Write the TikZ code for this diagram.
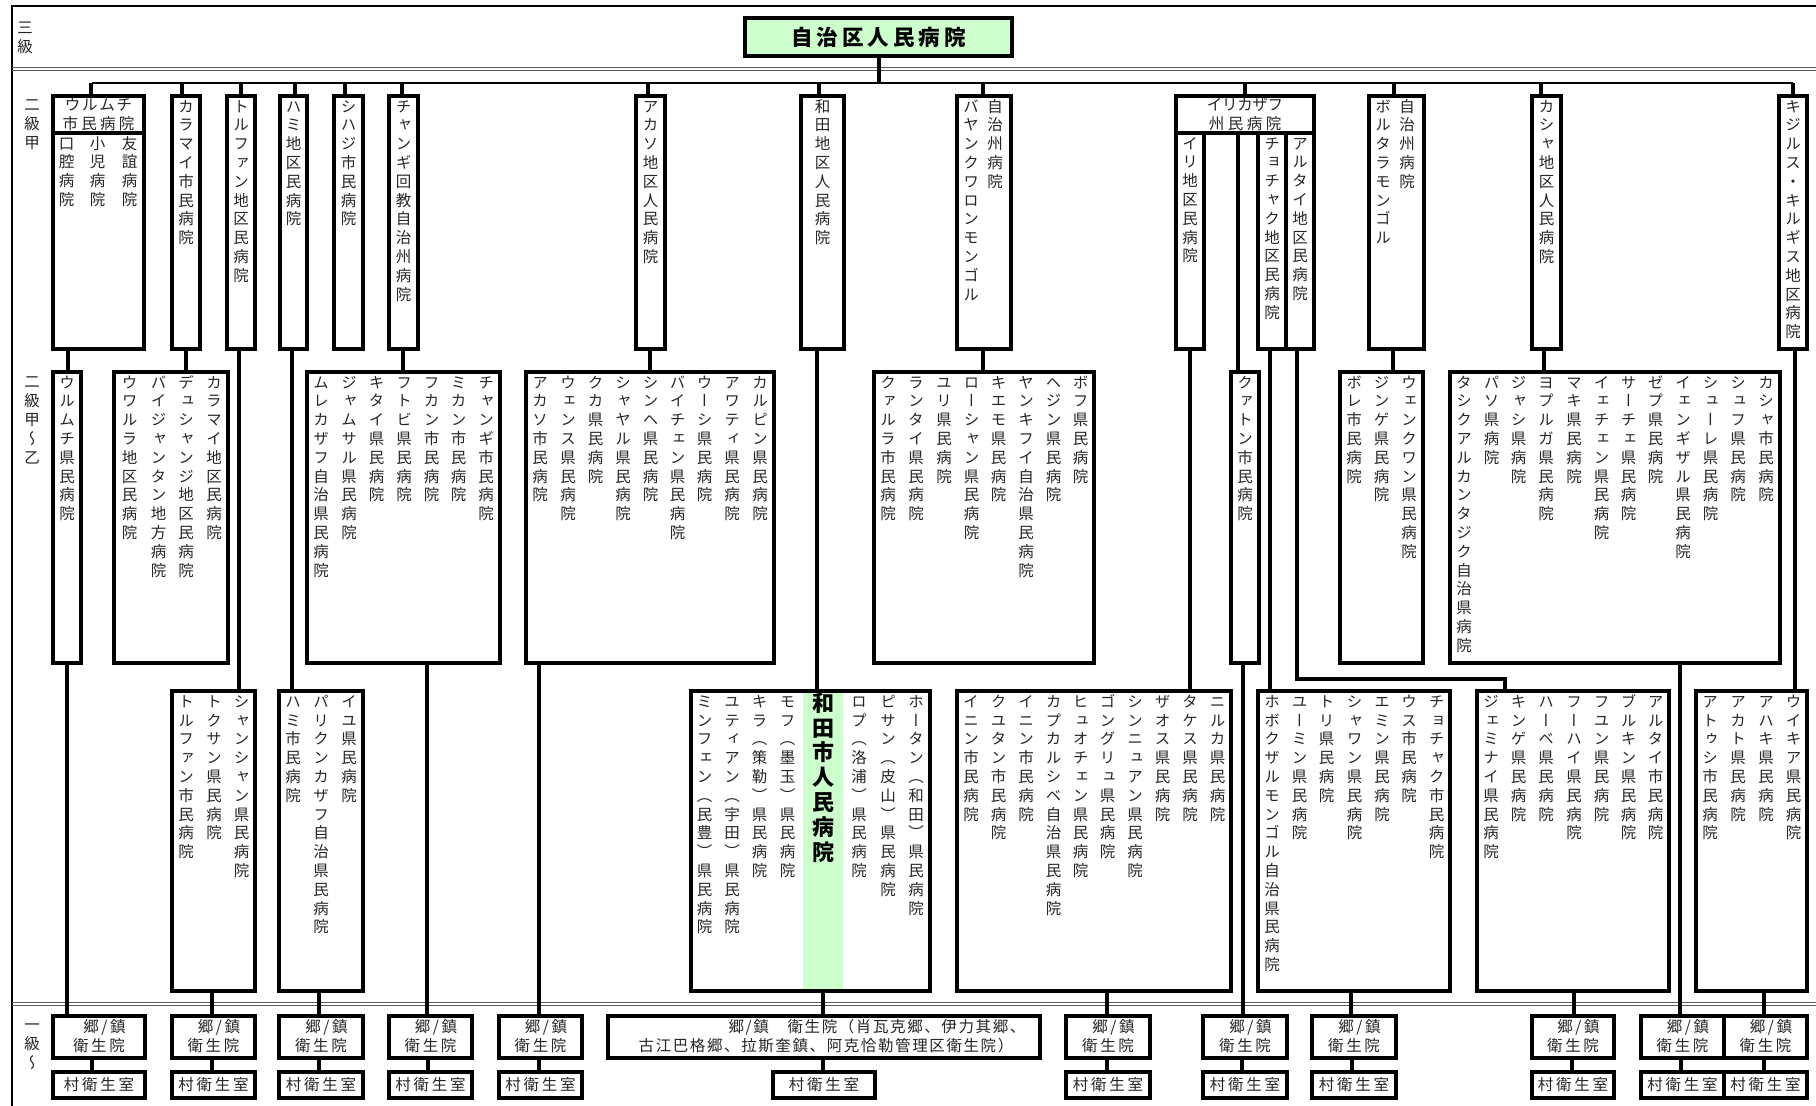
\documentclass[tikz,border=0pt]{standalone}
\usepackage{fontspec}
\newfontfamily\jf{Noto Sans CJK JP}
\newfontfamily\jv[RawFeature=+vert]{Noto Sans CJK JP}
\usetikzlibrary{calc}
\definecolor{lgreen}{HTML}{CCFFCC}
\newlength\vtp
\setlength\vtp{18.8pt}
\makeatletter
\def\vt@q{\vt@q}
\def\vt@loop#1{\ifx#1\vt@q\else\hbox to 1.05em{\hss\vrule height .88em depth .12em width 0pt\relax#1\hss}\expandafter\vt@loop\fi}
\newcommand\vtext[1]{\vbox{\baselineskip=\vtp\lineskiplimit=-100pt\lineskip=0pt\expandafter\vt@loop#1\vt@q}}
\def\hs@loop#1{\ifx#1\vt@q\else\kern\hsk\relax#1\expandafter\hs@loop\fi}
\newcommand\hsp[2]{\begingroup\def\hsk{#1}\vrule height .88em depth .12em width 0pt\kern-#1\relax\hs@loop#2\vt@q\endgroup}
\makeatother
\newcommand\hfn{\jf\fontsize{15.5}{19}\selectfont}
\newcommand\vfn{\jv\fontsize{15.5}{19}\selectfont\setlength\vtp{18.8pt}}
\newcommand\gfn{\jv\bfseries\fontsize{22}{26}\selectfont\setlength\vtp{24.8pt}}
\newcommand\tfn{\jf\bfseries\fontsize{21.5}{24}\selectfont}
\tikzset{
 box/.style={draw, line width=3.2pt, rectangle, inner sep=0pt, outer sep=0pt, font=\hfn, text=black!85},
 stem/.style={line width=4pt},
 bus/.style={line width=1.7pt},
 sepl/.style={line width=0.6pt, draw=black!80, double=white, double distance=1.2pt},
 framel/.style={line width=2.2pt},
 dbl/.style={line width=0.9pt, draw=black!65},
 vt/.style={inner sep=0pt, outer sep=0pt, anchor=north, font=\vfn, text=black!85},
 vtb/.style={inner sep=0pt, outer sep=0pt, anchor=north, font=\gfn, text=black},
 ht/.style={inner sep=0pt, outer sep=0pt, font=\hfn, text=black!85},
}
% group: name, y0, y1, x0, x1, bounds, texts
\newcommand\grp[7]{%
 \node[box, anchor=north west, minimum width={#5-#4}, minimum height={#3-#2}] (#1) at (#4,#2) {};
 \foreach \tx [count=\i] in {#7} {
   \pgfmathtruncatemacro\j{\i-1}
   \pgfmathsetmacro\xa{{#6}[\j]}
   \pgfmathsetmacro\xb{{#6}[\i]}
   \ifnum\i>1 \draw[sepl] (\xa,#2+1.6) -- (\xa,#3-1.6);\fi
   \node[vt] (#1t\i) at ({(\xa+\xb)/2},#2+2.55) {\vtext{\tx}};
 }}
\newcommand\clinic[4]{%
 \node[box, anchor=north west, minimum width={#3-#2}, minimum height=42] (#1) at (#2,1016) {};
 \node[ht] (#1a) at ({(#2+#3)/2+5.5},1027) {\hsp{2.7pt}{郷/鎮}};
 \node[ht] (#1b) at ({(#2+#3)/2},1046) {\hsp{2.7pt}{衛生院}};
 \node[box, anchor=north west, minimum width={#3-#2}, minimum height=26] (#1v) at (#2,1072) {\hsp{2.7pt}{村衛生室}};
 \coordinate (cx) at (#4,0);
 \draw[stem] (#1.south -| cx) -- (#1v.north -| cx);}
\newcommand\conn[3]{\coordinate (cx) at (#3,0); \draw[stem] (#1.south -| cx) -- (#2.north -| cx);}
\newcommand\drop[2]{\coordinate (cx) at (#2,0); \draw[stem] (busL -| cx) -- (#1.north -| cx);}
\begin{document}
\begin{tikzpicture}[x=1pt,y=-1pt]
\useasboundingbox (0,0) rectangle (1816,1106);
\fill[white] (0,0) rectangle (1816,1106);
% frame and level dividers
\draw[framel] (12,1106) -- (12,6) -- (1816,6);
\draw[dbl] (12,67.7) -- (1816,67.7);
\draw[dbl] (12,70.3) -- (1816,70.3);
\draw[dbl] (12,1002.7) -- (1816,1002.7);
\draw[dbl] (12,1005.3) -- (1816,1005.3);
% level labels
\node[vt] (lab1) at (25,20.3) {\vtext{三級}};
\node[vt] (lab2) at (32,97.3) {\vtext{二級甲}};
\node[vt] (lab3) at (32,374.3) {\vtext{二級甲～乙}};
\node[vt] (lab4) at (32,1017.3) {\vtext{一級～}};
% top
\node[box, fill=lgreen, minimum width=267, minimum height=38, font=\tfn, text=black] (top) at (878.5,37) {\hsp{4pt}{自治区人民病院}};
\coordinate (busL) at (92,83);
\coordinate (busR) at (1793,83);
\draw[bus] (busL) -- (busR);
\draw[stem] (top.south) -- (top.south |- busL);
% ---------- row 1 ----------
\node[box, anchor=north west, minimum width=91, minimum height=37, align=center] (r1ah) at (53,96) {\hsp{1.8pt}{ウルムチ}\\\hsp{3.3pt}{市民病院}};
\grp{r1a}{133}{349}{53}{144}{53,80,115,144}{口腔病院,小児病院,友誼病院}
\grp{r1b}{96}{349}{172}{200}{172,200}{カラマイ市民病院}
\grp{r1c}{96}{349}{227}{255}{227,255}{トルファン地区民病院}
\grp{r1d}{96}{349}{280}{307}{280,307}{ハミ地区民病院}
\grp{r1e}{96}{349}{334}{363}{334,363}{シハジ市民病院}
\grp{r1f}{96}{349}{389}{418}{389,418}{チャンギ回教自治州病院}
\grp{r1g}{96}{349}{636}{665}{636,665}{アカソ地区人民病院}
\grp{r1h}{96}{349}{801}{844}{801,844}{和田地区人民病院}
\node[box, anchor=north west, minimum width=54, minimum height=253] (r1i) at (957,96) {};
\node[vt] (r1it1) at (971,98.55) {\vtext{バヤンクワロンモンゴル}};
\node[vt] (r1it2) at (995,98.55) {\vtext{自治州病院}};
\node[box, anchor=north west, minimum width=138, minimum height=37, align=center] (r1jh) at (1176,96) {\hsp{-0.3pt}{イリカザフ}\\\hsp{3.5pt}{州民病院}};
\grp{r1j1}{133}{349}{1176}{1204}{1176,1204}{イリ地区民病院}
\grp{r1j2}{133}{349}{1258}{1286}{1258,1286}{チョチャク地区民病院}
\grp{r1j3}{133}{349}{1286}{1314}{1286,1314}{アルタイ地区民病院}
\node[box, anchor=north west, minimum width=55, minimum height=253] (r1k) at (1369,96) {};
\node[vt] (r1kt1) at (1383,98.55) {\vtext{ボルタラモンゴル}};
\node[vt] (r1kt2) at (1407,98.55) {\vtext{自治州病院}};
\grp{r1l}{96}{349}{1532}{1561}{1532,1561}{カシャ地区人民病院}
\grp{r1m}{96}{349}{1779}{1807}{1779,1807}{キジルス・キルギス地区病院}
% ---------- row 2 ----------
\grp{r2a}{372}{663}{53}{81}{53,81}{ウルムチ県民病院}
\grp{r2b}{372}{663}{114}{228}{114,145,172,200,228}{ウワルラ地区民病院,バイジャンタン地方病院,デュシャンジ地区民病院,カラマイ地区民病院}
\grp{r2c}{372}{663}{307}{500}{307,335,363,390,418,445,472,500}{ムレカザフ自治県民病院,ジャムサル県民病院,キタイ県民病院,フトビ県民病院,フカン市民病院,ミカン市民病院,チャンギ市民病院}
\grp{r2d}{372}{663}{526}{774}{526,554,582,609,637,664,691,718,746,774}{アカソ市民病院,ウェンス県民病院,クカ県民病院,シャヤル県民病院,シンヘ県民病院,バイチェン県民病院,ウーシ県民病院,アワティ県民病院,カルピン県民病院}
\grp{r2e}{372}{663}{874}{1094}{874,902,930,958,985,1012,1040,1067,1094}{クァルラ市民病院,ランタイ県民病院,ユリ県民病院,ローシャン県民病院,キエモ県民病院,ヤンキフイ自治県民病院,ヘジン県民病院,ボフ県民病院}
\grp{r2f}{372}{663}{1231}{1259}{1231,1259}{クァトン市民病院}
\grp{r2g}{372}{663}{1340}{1423}{1340,1368,1395,1423}{ボレ市民病院,ジンゲ県民病院,ウェンクワン県民病院}
\grp{r2h}{372}{663}{1450}{1780}{1450,1478,1505,1532,1560,1588,1615,1642,1669,1697,1724,1752,1780}{タシクアルカンタジク自治県病院,パソ県病院,ジャシ県病院,ヨプルガ県民病院,マキ県民病院,イェチェン県民病院,サーチェ県民病院,ゼプ県民病院,イェンギザル県民病院,シューレ県民病院,シュフ県民病院,カシャ市民病院}
% ---------- row 3 ----------
\grp{r3a}{691}{991}{172}{255}{172,200,228,255}{トルファン市民病院,トクサン県民病院,シャンシャン県民病院}
\grp{r3b}{691}{991}{279}{363}{279,307,335,363}{ハミ市民病院,パリクンカザフ自治県民病院,イユ県民病院}
\fill[lgreen] (802,691) rectangle (844,991);
\node[box, anchor=north west, minimum width=239, minimum height=300] (r3c) at (691,691) {};
\foreach \xx in {718,746,773,802,844,874,902} \draw[sepl] (\xx,692.6) -- (\xx,989.4);
\foreach \tx/\xx [count=\i] in {ミンフェン（民豊）県民病院/704.5,ユティアン（宇田）県民病院/732,キラ（策勒）県民病院/759.5,モフ（墨玉）県民病院/787.5,ロプ（洛浦）県民病院/859,ピサン（皮山）県民病院/888,ホータン（和田）県民病院/916}
  \node[vt] (r3ct\i) at (\xx,693.55) {\vtext{\tx}};
\node[vtb] (r3cg) at (823,692) {\vtext{和田市人民病院}};
\grp{r3d}{691}{991}{957}{1231}{957,985,1012,1040,1067,1094,1121,1149,1176,1204,1231}{イニン市民病院,クユタン市民病院,イニン市民病院,カプカルシベ自治県民病院,ヒュオチェン県民病院,ゴングリュ県民病院,シンニュアン県民病院,ザオス県民病院,タケス県民病院,ニルカ県民病院}
\grp{r3e}{691}{991}{1258}{1450}{1258,1286,1313,1340,1369,1395,1423,1450}{ホボクザルモンゴル自治県民病院,ユーミン県民病院,トリ県民病院,シャワン県民病院,エミン県民病院,ウス市民病院,チョチャク市民病院}
\grp{r3f}{691}{991}{1477}{1669}{1477,1505,1532,1560,1588,1615,1642,1669}{ジェミナイ県民病院,キンゲ県民病院,ハーベ県民病院,フーハイ県民病院,フユン県民病院,ブルキン県民病院,アルタイ市民病院}
\grp{r3g}{691}{991}{1696}{1807}{1696,1724,1752,1780,1807}{アトゥシ市民病院,アカト県民病院,アハキ県民病院,ウイキア県民病院}
% ---------- level 1 ----------
\clinic{cA}{53}{145}{92}
\clinic{cB}{172}{255}{212}
\clinic{cC}{279}{363}{319}
\clinic{cD}{389}{472}{428}
\clinic{cE}{499}{582}{539}
\node[box, anchor=north west, minimum width=432, minimum height=42] (cF) at (608,1016) {};
\node[ht] (cFa) at (877,1027) {\hsp{1.6pt}{郷/鎮　衛生院（肖瓦克郷、伊力其郷、}};
\node[ht] (cFb) at (826,1046) {\hsp{1.6pt}{古江巴格郷、拉斯奎鎮、阿克恰勒管理区衛生院）}};
\node[box, anchor=north west, minimum width=102, minimum height=26] (cFv) at (773,1072) {\hsp{2.7pt}{村衛生室}};
\conn{cF}{cFv}{823}
\clinic{cG}{1066}{1150}{1107}
\clinic{cH}{1203}{1287}{1242}
\clinic{cI}{1312}{1396}{1352}
\clinic{cJ}{1532}{1614}{1572}
\clinic{cK}{1641}{1724}{1681}
\clinic{cL}{1724}{1807}{1764}
% ---------- bus drops ----------
\drop{r1ah}{91}
\drop{r1b}{182}
\drop{r1c}{241}
\drop{r1d}{295}
\drop{r1e}{345}
\drop{r1f}{402}
\drop{r1g}{648}
\drop{r1h}{819}
\drop{r1i}{983}
\drop{r1jh}{1245}
\drop{r1k}{1394}
\drop{r1l}{1541}
\drop{r1m}{1793}
% ---------- connectors ----------
\conn{r1a}{r2a}{68}
\conn{r2a}{cA}{67}
\conn{r1b}{r2b}{186}
\conn{r1c}{r3a}{239}
\conn{r3a}{cB}{212}
\conn{r1d}{r3b}{292}
\conn{r3b}{cC}{319}
\conn{r1f}{r2c}{403}
\conn{r2c}{cD}{427}
\conn{r1g}{r2d}{650}
\conn{r2d}{cE}{539}
\conn{r1h}{r3c}{817}
\conn{r3c}{cF}{823}
\conn{r1i}{r2e}{983}
\conn{r1j1}{r3d}{1190}
\conn{r3d}{cG}{1107}
\conn{r1jh}{r2f}{1238}
\conn{r2f}{cH}{1243}
\conn{r1j2}{r3e}{1270}
\conn{r3e}{cI}{1351}
\coordinate (aa) at (1297,0);
\coordinate (ab) at (1505,0);
\coordinate (ay) at (0,679);
\draw[stem] (r1j3.south -| aa) -- (aa |- ay) -- (ab |- ay) -- (r3f.north -| ab);
\conn{r3f}{cJ}{1574}
\conn{r1k}{r2g}{1393}
\conn{r1l}{r2h}{1544}
\conn{r2h}{cK}{1680}
\conn{r1m}{r3g}{1795}
\conn{r3g}{cL}{1764}
\end{tikzpicture}
\end{document}
